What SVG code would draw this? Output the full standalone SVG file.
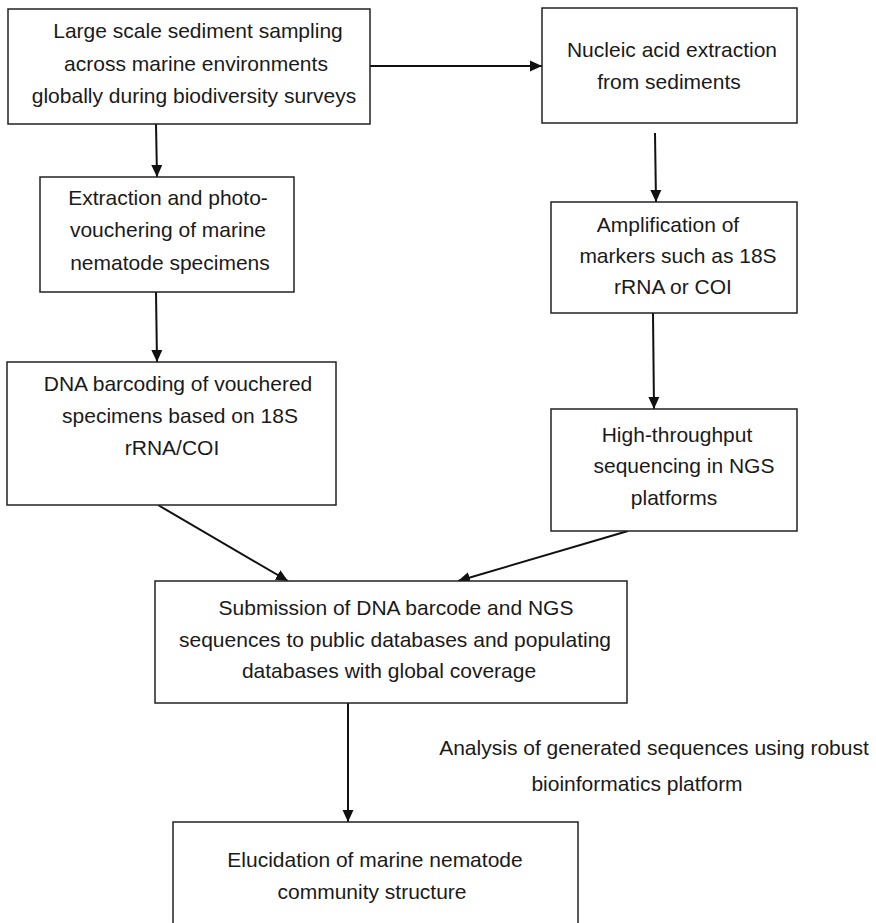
<svg xmlns="http://www.w3.org/2000/svg" width="876" height="923" viewBox="0 0 876 923">
<defs>
<style>
.box{fill:#fff;stroke:#222;stroke-width:1.5}
.t{font-family:"Liberation Sans",Arial,sans-serif;font-size:21px;fill:#1a1a1a;text-anchor:middle}
.c{stroke:#111;stroke-width:2;fill:none}
</style>
<marker id="ah" markerWidth="12" markerHeight="12" viewBox="0 0 12 12" refX="12" refY="6" orient="auto" markerUnits="userSpaceOnUse">
<path d="M0,0.5 L12,6 L0,11.5 Z" fill="#111"/>
</marker>
</defs>
<rect width="876" height="923" fill="#fff"/>
<g id="connectors">
<line class="c" x1="370" y1="66" x2="542" y2="66" marker-end="url(#ah)"/>
<line class="c" x1="156" y1="124" x2="157" y2="177" marker-end="url(#ah)"/>
<line class="c" x1="156" y1="292" x2="157" y2="362" marker-end="url(#ah)"/>
<line class="c" x1="655" y1="133" x2="656" y2="202" marker-end="url(#ah)"/>
<line class="c" x1="653" y1="313" x2="654" y2="409" marker-end="url(#ah)"/>
<line class="c" x1="158" y1="505" x2="288" y2="581" marker-end="url(#ah)"/>
<line class="c" x1="628" y1="531" x2="458" y2="581" marker-end="url(#ah)"/>
<line class="c" x1="348" y1="703" x2="348" y2="822" marker-end="url(#ah)"/>
</g>
<g id="n1">
<rect class="box" x="8" y="9" width="362" height="115"/>
<text class="t"><tspan x="198" y="38">Large scale sediment sampling</tspan><tspan x="196" y="71">across marine environments</tspan><tspan x="194" y="103">globally during biodiversity surveys</tspan></text>
</g>
<g id="n2">
<rect class="box" x="542" y="8" width="255" height="115"/>
<text class="t"><tspan x="672" y="57">Nucleic acid extraction</tspan><tspan x="669" y="89">from sediments</tspan></text>
</g>
<g id="n3">
<rect class="box" x="40" y="177" width="254" height="115"/>
<text class="t"><tspan x="168" y="205">Extraction and photo-</tspan><tspan x="168" y="237">vouchering of marine</tspan><tspan x="170" y="270">nematode specimens</tspan></text>
</g>
<g id="n4">
<rect class="box" x="551" y="202" width="246" height="111"/>
<text class="t"><tspan x="668" y="232">Amplification of</tspan><tspan x="678" y="263">markers such as 18S</tspan><tspan x="673" y="294">rRNA or COI</tspan></text>
</g>
<g id="n5">
<rect class="box" x="7" y="362" width="329" height="143"/>
<text class="t"><tspan x="178" y="391">DNA barcoding of vouchered</tspan><tspan x="180" y="423">specimens based on 18S</tspan><tspan x="172" y="455">rRNA/COI</tspan></text>
</g>
<g id="n6">
<rect class="box" x="551" y="409" width="246" height="122"/>
<text class="t"><tspan x="677" y="442">High-throughput</tspan><tspan x="684" y="473">sequencing in NGS</tspan><tspan x="674" y="505">platforms</tspan></text>
</g>
<g id="n7">
<rect class="box" x="155" y="581" width="472" height="122"/>
<text class="t"><tspan x="396" y="615">Submission of DNA barcode and NGS</tspan><tspan x="395" y="647">sequences to public databases and populating</tspan><tspan x="389" y="678">databases with global coverage</tspan></text>
</g>
<g id="label">
<text class="t"><tspan x="654" y="755">Analysis of generated sequences using robust</tspan><tspan x="637" y="791">bioinformatics platform</tspan></text>
</g>
<g id="n8">
<rect class="box" x="173" y="822" width="405" height="120"/>
<text class="t"><tspan x="375" y="867">Elucidation of marine nematode</tspan><tspan x="372" y="899">community structure</tspan></text>
</g>
</svg>
